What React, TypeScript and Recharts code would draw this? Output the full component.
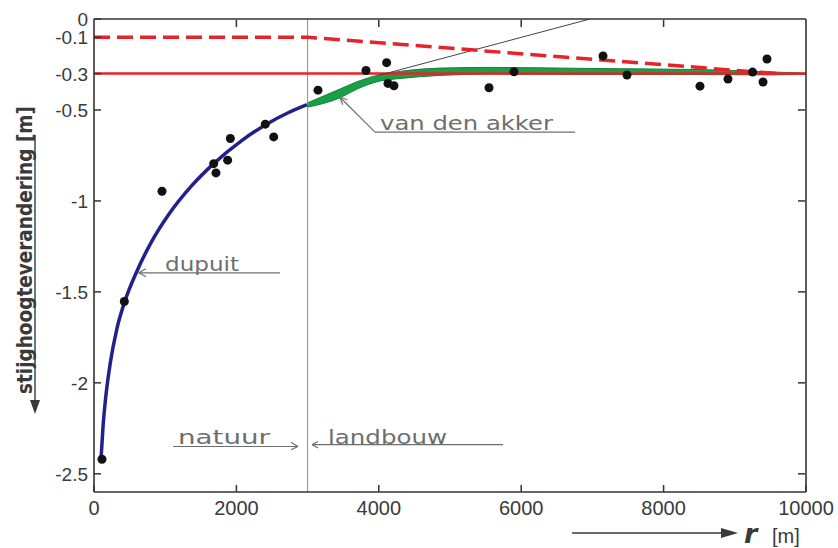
import React from 'react';
import { ComposedChart, Line, Area, Scatter, XAxis, YAxis, ReferenceLine, ReferenceDot } from 'recharts';

// axis ticks
const xTicks = [0, 2000, 4000, 6000, 8000, 10000];
const yTicks = [0, -0.1, -0.3, -0.5, -1, -1.5, -2, -2.5];
const topTicks = [2000, 4000, 6000, 8000];
const rightTicks = [-0.5, -1, -1.5, -2, -2.5];

// measured drawdown points
const measured = [
  { x: 112, y: -2.42 }, { x: 426, y: -1.553 }, { x: 955, y: -0.947 }, { x: 1681, y: -0.795 },
  { x: 1713, y: -0.846 }, { x: 1877, y: -0.776 }, { x: 1915, y: -0.657 }, { x: 2406, y: -0.578 },
  { x: 2524, y: -0.648 }, { x: 3146, y: -0.391 }, { x: 3820, y: -0.283 }, { x: 4110, y: -0.24 },
  { x: 4129, y: -0.354 }, { x: 4213, y: -0.367 }, { x: 5548, y: -0.378 }, { x: 5899, y: -0.29 },
  { x: 7149, y: -0.203 }, { x: 7486, y: -0.308 }, { x: 8511, y: -0.369 }, { x: 8904, y: -0.33 },
  { x: 9250, y: -0.292 }, { x: 9396, y: -0.346 }, { x: 9452, y: -0.22 },
];

// dupuit curve (natuur side)
const dupuitCurve = [
  { x: 100, y: -2.41 }, { x: 125, y: -2.25 }, { x: 159, y: -2.1 }, { x: 229, y: -1.89 },
  { x: 323, y: -1.7 }, { x: 426, y: -1.56 }, { x: 604, y: -1.385 }, { x: 815, y: -1.22 },
  { x: 1049, y: -1.075 }, { x: 1376, y: -0.915 }, { x: 1681, y: -0.795 }, { x: 2079, y: -0.667 },
  { x: 2406, y: -0.582 }, { x: 2734, y: -0.514 }, { x: 2992, y: -0.471 },
];

// van den akker band (landbouw side), [low, high]
const akkerBand = [
  { x: 2992, band: [-0.485, -0.462] },
  { x: 3455, band: [-0.433, -0.385] },
  { x: 3694, band: [-0.385, -0.345] },
  { x: 4017, band: [-0.341, -0.306] },
  { x: 4298, band: [-0.327, -0.288] },
  { x: 4860, band: [-0.31, -0.27] },
  { x: 5562, band: [-0.303, -0.266] },
  { x: 6966, band: [-0.305, -0.272] },
  { x: 8511, band: [-0.305, -0.278] },
  { x: 9452, band: [-0.307, -0.29] },
  { x: 10000, band: [-0.305, -0.298] },
];

const dashedLevel = [{ x: 0, y: -0.1 }, { x: 3000, y: -0.1 }, { x: 9600, y: -0.3 }];
const solidLevel = [{ x: 0, y: -0.3 }, { x: 10000, y: -0.3 }];
const tangentLine = [{ x: 4000, y: -0.31 }, { x: 6966, y: 0 }];
const boundaryX = 3000;

// annotation leader lines and labels
const noteLines = [
  [{ x: 628, y: -1.395 }, { x: 2612, y: -1.395 }],
  [{ x: 628, y: -1.395 }, { x: 730, y: -1.373 }],
  [{ x: 628, y: -1.395 }, { x: 730, y: -1.417 }],
  [{ x: 3455, y: -0.43 }, { x: 3947, y: -0.622 }],
  [{ x: 3947, y: -0.622 }, { x: 6756, y: -0.622 }],
  [{ x: 3455, y: -0.43 }, { x: 3560, y: -0.444 }],
  [{ x: 3455, y: -0.43 }, { x: 3493, y: -0.471 }],
  [{ x: 1110, y: -2.35 }, { x: 2865, y: -2.35 }],
  [{ x: 2865, y: -2.35 }, { x: 2767, y: -2.327 }],
  [{ x: 2865, y: -2.35 }, { x: 2767, y: -2.368 }],
  [{ x: 3062, y: -2.34 }, { x: 5744, y: -2.34 }],
  [{ x: 3062, y: -2.34 }, { x: 3146, y: -2.322 }],
  [{ x: 3062, y: -2.34 }, { x: 3146, y: -2.358 }],
];
const noteTexts = [
  { x: 997, y: -1.385, text: 'dupuit', len: 74 },
  { x: 4017, y: -0.611, text: 'van den akker', len: 173 },
  { x: 1180, y: -2.335, text: 'natuur', len: 92 },
  { x: 3287, y: -2.335, text: 'landbouw', len: 119 },
];

const AXIS = '#333';
const TXT = '#3a3a3a';
const NOTE = '#6e6e6e';
const TICK_FONT = '"Liberation Sans", Arial, sans-serif';

const BottomTick = ({ x, y, payload }: any) => (
  <g>
    <line x1={x} x2={x} y1={y} y2={y - 7} stroke={AXIS} strokeWidth={1.5} />
    <text x={x} y={y + 23} textAnchor="middle" fill={TXT} fontSize={20} fontFamily={TICK_FONT}>{payload.value}</text>
  </g>
);

const LeftTick = ({ x, y, payload }: any) => (
  <g>
    <line x1={x} x2={x + 7} y1={y} y2={y} stroke={AXIS} strokeWidth={1.5} />
    <text x={x - 6} y={y + 7} textAnchor="end" fill={TXT} fontSize={19} fontFamily={TICK_FONT}>{String(payload.value)}</text>
  </g>
);

const TopTick = ({ x, y }: any) => <line x1={x} x2={x} y1={y + 1} y2={y + 8} stroke={AXIS} strokeWidth={1.5} />;
const RightTick = ({ x, y }: any) => <line x1={x - 1} x2={x - 8} y1={y} y2={y} stroke={AXIS} strokeWidth={1.5} />;

const Dot = (p: any) => <circle cx={p.cx} cy={p.cy} r={4.5} fill="#111" />;

export default function App() {
  return (
    <div style={{ position: 'absolute', left: 0, top: 0, width: 838, height: 548, background: '#fff' }}>
      <ComposedChart width={838} height={548} margin={{ top: 18, right: 31, bottom: 26, left: 34 }}>
        <XAxis dataKey="x" type="number" domain={[0, 10000]} allowDataOverflow ticks={xTicks} interval={0}
          height={30} tickSize={0} tickMargin={0} tickLine={false} axisLine={{ stroke: AXIS, strokeWidth: 1.6 }} tick={BottomTick} />
        <XAxis xAxisId="top" orientation="top" dataKey="x" type="number" domain={[0, 10000]} allowDataOverflow ticks={topTicks}
          interval={0} height={1} tickSize={0} tickMargin={0} tickLine={false} axisLine={{ stroke: AXIS, strokeWidth: 1.6 }} tick={TopTick} />
        <YAxis type="number" domain={[-2.6, 0]} allowDataOverflow ticks={yTicks} interval={0} width={60}
          tickSize={0} tickMargin={0} tickLine={false} axisLine={{ stroke: AXIS, strokeWidth: 1.6 }} tick={LeftTick} />
        <YAxis yAxisId="right" orientation="right" type="number" domain={[-2.6, 0]} allowDataOverflow ticks={rightTicks} interval={0}
          width={1} tickSize={0} tickMargin={0} tickLine={false} axisLine={{ stroke: AXIS, strokeWidth: 1.6 }} tick={RightTick} />

        <ReferenceLine x={boundaryX} stroke="#8a8a8a" strokeWidth={1} />
        <Line data={solidLevel} xAxisId="top" yAxisId="right" dataKey="y" type="linear" stroke="#e8222b" strokeWidth={2.5} dot={false} isAnimationActive={false} />

        <Line data={tangentLine} dataKey="y" type="linear" stroke="#444" strokeWidth={1} dot={false} isAnimationActive={false} />
        <Area data={akkerBand} dataKey="band" type="monotone" stroke="#16803a" strokeWidth={1} fill="#17a046" fillOpacity={1} isAnimationActive={false} />
        <Line data={dashedLevel} dataKey="y" type="linear" stroke="#e8222b" strokeWidth={3.5} strokeDasharray="16 7" dot={false} isAnimationActive={false} />
        <Line data={dupuitCurve} dataKey="y" type="monotone" stroke="#22208c" strokeWidth={3.5} dot={false} isAnimationActive={false} />

        {noteLines.map((seg, i) => (
          <ReferenceLine key={'n' + i} segment={seg} stroke={NOTE} strokeWidth={1.2} />
        ))}
        {noteTexts.map((n) => (
          <ReferenceDot key={n.text} x={n.x} y={n.y} r={1}
            shape={(p: any) => (
              <text x={p.cx} y={p.cy} fill={NOTE} fontSize={19} fontFamily='"DejaVu Sans", sans-serif'
                textLength={n.len} lengthAdjust="spacingAndGlyphs">{n.text}</text>
            )} />
        ))}

        <Scatter data={measured} dataKey="y" shape={Dot} isAnimationActive={false} />
      </ComposedChart>

      <svg width={838} height={548} style={{ position: 'absolute', left: 0, top: 0, pointerEvents: 'none' }}>
        <g transform="rotate(-90 32 250)">
          <text x={32} y={250} textAnchor="middle" fill={TXT} fontSize={21} fontWeight={600}
            fontFamily='"DejaVu Sans", sans-serif' textLength={288} lengthAdjust="spacingAndGlyphs">
            stijghoogteverandering [m]
          </text>
        </g>
        <line x1={35} x2={35} y1={135} y2={404} stroke={TXT} strokeWidth={1.4} />
        <polygon points="30,400 40,400 35,414" fill={TXT} />

        <line x1={572} x2={733} y1={533} y2={533} stroke={TXT} strokeWidth={1.6} />
        <polygon points="721,528 738,533 721,538" fill={TXT} />
        <text x={744} y={543} fill={TXT} fontSize={27} fontWeight={700} fontStyle="italic" fontFamily='"DejaVu Sans", sans-serif'>r</text>
        <text x={772} y={543} fill={TXT} fontSize={20} fontFamily={TICK_FONT}>[m]</text>
      </svg>
    </div>
  );
}
